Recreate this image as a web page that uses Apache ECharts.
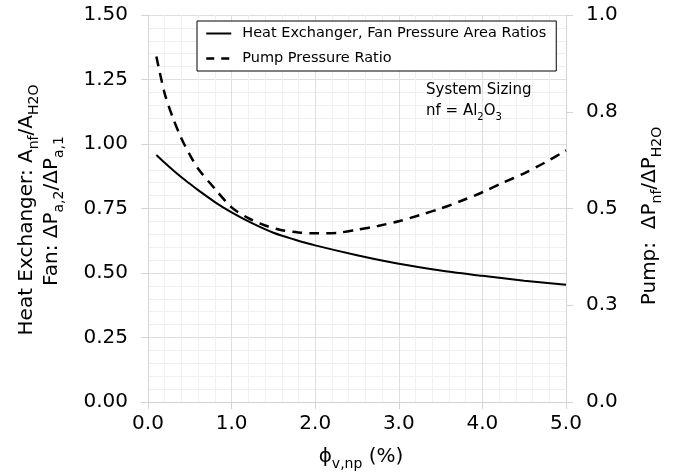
<!DOCTYPE html>
<html>
<head>
<meta charset="utf-8">
<script src="https://cdn.jsdelivr.net/npm/echarts@6/dist/echarts.min.js"></script>
<style>
  html, body { margin: 0; padding: 0; background: #fff; }
  #chart { width: 676px; height: 476px; }
</style>
</head>
<body>
<div id="chart"></div>
<script>
// 体积分数 (%)
const hxX = [0.1, 0.2, 0.3, 0.4, 0.5, 0.6, 0.8, 1.0, 1.25, 1.5, 1.75, 2.0, 2.5, 3.0, 3.5, 4.0, 4.5, 5.0];
const hxY = [0.957, 0.927, 0.898, 0.871, 0.846, 0.821, 0.775, 0.735, 0.692, 0.656, 0.630, 0.607, 0.569, 0.536, 0.510, 0.489, 0.470, 0.454];

const pumpX = [0.1, 0.2, 0.3, 0.4, 0.5, 0.6, 0.8, 1.0, 1.2, 1.4, 1.6, 1.8, 2.0, 2.25, 2.5, 2.75, 3.0, 3.25, 3.5, 3.75, 4.0, 4.25, 4.5, 4.75, 5.0];
const pumpY = [0.893, 0.797, 0.733, 0.681, 0.639, 0.603, 0.551, 0.503, 0.475, 0.456, 0.444, 0.438, 0.436, 0.437, 0.445, 0.455, 0.467, 0.483, 0.500, 0.520, 0.542, 0.567, 0.591, 0.619, 0.650];

const xTickLabels = ['0.0', '1.0', '2.0', '3.0', '4.0', '5.0'];
const leftTickLabels = ['0.00', '0.25', '0.50', '0.75', '1.00', '1.25', '1.50'];
const rightTickLabels = ['0.0', '0.3', '0.5', '0.8', '1.0'];

const seriesNames = ['Heat Exchanger, Fan Pressure Area Ratios', 'Pump Pressure Ratio'];

const FONT = 'DejaVu Sans';
const chart = echarts.init(document.getElementById('chart'));

const axisGray = '#d4d4d4';
const gridGray = '#dedede';
const minorGray = '#f0f0f0';
const dash = [10, 7];

const zip = (xs, ys) => xs.map((x, i) => [x, ys[i]]);
const subStyle = size => ({ fontFamily: FONT, fontSize: size, lineHeight: size, verticalAlign: 'bottom', fill: '#000' });

const option = {
    animation: false,
    grid: { left: 148, right: 110, top: 15, bottom: 74 },
    legend: {
        orient: 'vertical',
        left: 197, top: 21, z: 10,
        padding: [5, 10, 5, 8],
        itemWidth: 25, itemHeight: 14, itemGap: 10,
        borderColor: '#000', borderWidth: 1,
        backgroundColor: '#fff',
        itemStyle: { opacity: 0 },
        textStyle: { fontFamily: FONT, fontSize: 14.5, color: '#000', padding: [0, 0, 0, 6] },
        data: [
            { name: seriesNames[0], lineStyle: { color: '#000', width: 2, type: 'solid' } },
            { name: seriesNames[1], lineStyle: { color: '#000', width: 2.5, type: [8, 7] } }
        ]
    },
    xAxis: {
        type: 'value', min: 0, max: 5, interval: 1,
        axisLine: { show: true, onZero: false, lineStyle: { color: axisGray } },
        axisTick: { show: true, length: 7, lineStyle: { color: axisGray } },
        axisLabel: {
            fontFamily: FONT, fontSize: 20, color: '#000', margin: 12,
            formatter: v => xTickLabels[Math.round(v)]
        },
        splitLine: { show: true, lineStyle: { color: gridGray } },
        minorTick: { show: false, splitNumber: 5 },
        minorSplitLine: { show: true, lineStyle: { color: minorGray } }
    },
    yAxis: [
        {
            type: 'value', min: 0, max: 1.5, interval: 0.25, position: 'left',
            axisLine: { show: true, lineStyle: { color: axisGray } },
            axisTick: { show: true, length: 7, lineStyle: { color: axisGray } },
            axisLabel: {
                fontFamily: FONT, fontSize: 20, color: '#000', margin: 20,
                formatter: v => leftTickLabels[Math.round(v / 0.25)]
            },
            splitLine: { show: true, lineStyle: { color: gridGray } },
            minorTick: { show: false, splitNumber: 5 },
            minorSplitLine: { show: true, lineStyle: { color: minorGray } }
        },
        {
            type: 'value', min: 0, max: 1.0, interval: 0.25, position: 'right',
            axisLine: { show: true, lineStyle: { color: axisGray } },
            axisTick: { show: true, length: 7, lineStyle: { color: axisGray } },
            axisLabel: {
                fontFamily: FONT, fontSize: 20, color: '#000', margin: 20,
                formatter: v => rightTickLabels[Math.round(v / 0.25)]
            },
            splitLine: { show: false }
        }
    ],
    series: [
        {
            name: seriesNames[0], type: 'line', yAxisIndex: 0,
            data: zip(hxX, hxY), smooth: 0.3,
            symbol: 'none', color: '#000',
            lineStyle: { color: '#000', width: 2 }
        },
        {
            name: seriesNames[1], type: 'line', yAxisIndex: 1,
            data: zip(pumpX, pumpY), smooth: 0.3,
            symbol: 'none', color: '#000',
            lineStyle: { color: '#000', width: 2.5, type: dash }
        }
    ],
    graphic: [
        // 左轴标题
        {
            type: 'text', x: 27, y: 210, rotation: Math.PI / 2, z: 100,
            style: {
                text: 'Heat Exchanger: A{s|nf}/A{s|H2O}',
                fontFamily: FONT, fontSize: 20, fill: '#000',
                align: 'center', verticalAlign: 'middle', lineHeight: 28,
                rich: { s: subStyle(14) }
            }
        },
        {
            type: 'text', x: 52, y: 211, rotation: Math.PI / 2, z: 100,
            style: {
                text: 'Fan: ΔP{s|a,2}/ΔP{s|a,1}',
                fontFamily: FONT, fontSize: 20, fill: '#000',
                align: 'center', verticalAlign: 'middle', lineHeight: 28,
                rich: { s: subStyle(14) }
            }
        },
        // 右轴标题
        {
            type: 'text', x: 650, y: 216, rotation: Math.PI / 2, z: 100,
            style: {
                text: 'Pump:  ΔP{s|nf}/ΔP{s|H2O}',
                fontFamily: FONT, fontSize: 20, fill: '#000',
                align: 'center', verticalAlign: 'middle', lineHeight: 28,
                rich: { s: subStyle(14) }
            }
        },
        // x轴标题
        {
            type: 'text', x: 361, y: 457, z: 100,
            style: {
                text: 'ϕ{s|v,np} (%)',
                fontFamily: FONT, fontSize: 20, fill: '#000',
                align: 'center', verticalAlign: 'middle', lineHeight: 28,
                rich: { s: subStyle(14) }
            }
        },
        // 注释
        {
            type: 'text', x: 426, y: 80, z: 100,
            style: {
                text: 'System Sizing\nnf = Al{s|2}O{s|3}',
                fontFamily: FONT, fontSize: 15, fill: '#000', lineHeight: 21,
                rich: { s: subStyle(10) }
            }
        }
    ]
};

chart.setOption(option);
</script>
</body>
</html>
